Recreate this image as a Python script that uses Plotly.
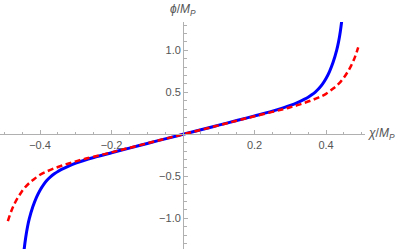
import plotly.graph_objects as go

# Blue (solid) curve
blue_x = [-0.45, -0.445, -0.44, -0.435, -0.43, -0.42, -0.41, -0.40, -0.39, -0.38, -0.37, -0.36,
          -0.35, -0.34, -0.32, -0.30, -0.28, -0.25, -0.20, -0.15, -0.10, -0.05, 0.0,
          0.05, 0.10, 0.15, 0.20, 0.25, 0.28, 0.30, 0.32, 0.34, 0.35, 0.36, 0.37, 0.38,
          0.39, 0.40, 0.41, 0.42, 0.43, 0.435, 0.44, 0.445, 0.45]
blue_y = [-1.62, -1.39, -1.225, -1.10, -1.005, -0.86, -0.75, -0.665, -0.598, -0.545, -0.503, -0.47,
          -0.442, -0.418, -0.378, -0.344, -0.315, -0.276, -0.219, -0.164, -0.109, -0.054, 0.0,
          0.054, 0.109, 0.164, 0.219, 0.276, 0.315, 0.344, 0.378, 0.418, 0.442, 0.47, 0.503, 0.545,
          0.598, 0.665, 0.75, 0.86, 1.005, 1.10, 1.225, 1.39, 1.62]

# Red (dashed) curve
red_x = [-0.49, -0.48, -0.47, -0.46, -0.45, -0.44, -0.43, -0.42, -0.40, -0.38, -0.36, -0.34,
         -0.32, -0.30, -0.28, -0.25, -0.20, -0.15, -0.10, -0.05, 0.0,
         0.05, 0.10, 0.15, 0.20, 0.25, 0.28, 0.30, 0.32, 0.34, 0.36, 0.38, 0.40,
         0.42, 0.43, 0.44, 0.45, 0.46, 0.47, 0.48, 0.49]
red_y = [-1.035, -0.91, -0.815, -0.74, -0.675, -0.622, -0.58, -0.545, -0.482, -0.44, -0.405, -0.375,
         -0.347, -0.322, -0.298, -0.267, -0.215, -0.161, -0.107, -0.053, 0.0,
         0.053, 0.107, 0.161, 0.215, 0.267, 0.298, 0.322, 0.347, 0.375, 0.405, 0.44, 0.482,
         0.545, 0.58, 0.622, 0.675, 0.74, 0.815, 0.91, 1.035]

x_ticks = [-0.4, -0.2, 0.2, 0.4]
x_labels = ["\u22120.4", "\u22120.2", "0.2", "0.4"]
y_ticks = [-1.0, -0.5, 0.5, 1.0]
y_labels = ["\u22121.0", "\u22120.5", "0.5", "1.0"]
x_minor = [-0.5, -0.45, -0.35, -0.3, -0.25, -0.15, -0.1, -0.05, 0.05, 0.1, 0.15, 0.25, 0.3, 0.35, 0.45, 0.5]
y_minor = [-1.3, -1.2, -1.1, -0.9, -0.8, -0.7, -0.6, -0.4, -0.3, -0.2, -0.1,
           0.1, 0.2, 0.3, 0.4, 0.6, 0.7, 0.8, 0.9, 1.1, 1.2, 1.3]

xr = [-0.512, 0.509]
yr = [-1.3655, 1.337]

axis_col = "#b0b0b0"
text_col = "#555555"
font_fam = "Liberation Sans, Arial, sans-serif"

fig = go.Figure()
fig.add_trace(go.Scatter(x=blue_x, y=blue_y, mode="lines",
                         line=dict(color="rgb(0,0,255)", width=3, shape="spline", smoothing=1),
                         showlegend=False, hoverinfo="skip"))
fig.add_trace(go.Scatter(x=red_x, y=red_y, mode="lines",
                         line=dict(color="rgb(255,0,0)", width=2.5, dash="6px,3.5px",
                                   shape="spline", smoothing=1),
                         showlegend=False, hoverinfo="skip"))

fig.update_layout(
    width=403, height=249,
    margin=dict(l=0, r=38, t=22, b=0, autoexpand=False),
    paper_bgcolor="white", plot_bgcolor="white",
    font=dict(family=font_fam, size=11, color=text_col),
    xaxis=dict(range=xr, anchor="free", position=(0 - yr[0]) / (yr[1] - yr[0]), automargin=False,
               showgrid=False, zeroline=False, showline=True, linecolor=axis_col, linewidth=1,
               tickmode="array", tickvals=x_ticks, ticktext=x_labels,
               ticks="inside", ticklen=4, tickcolor=axis_col, tickwidth=1,
               tickfont=dict(family=font_fam, size=11, color=text_col),
               minor=dict(tickmode="array", tickvals=x_minor, ticks="inside", ticklen=2.5,
                          tickcolor=axis_col, tickwidth=1, showgrid=False)),
    yaxis=dict(range=yr, anchor="free", position=(0 - xr[0]) / (xr[1] - xr[0]), automargin=False,
               showgrid=False, zeroline=False, showline=True, linecolor=axis_col, linewidth=1,
               tickmode="array", tickvals=y_ticks, ticktext=y_labels,
               ticks="inside", ticklen=4, tickcolor=axis_col, tickwidth=1,
               tickfont=dict(family=font_fam, size=11, color=text_col),
               minor=dict(tickmode="array", tickvals=y_minor, ticks="inside", ticklen=2.5,
                          tickcolor=axis_col, tickwidth=1, showgrid=False)),
    annotations=[
        dict(text="<i>\u03d5</i>/<i>M</i><sub><i>P</i></sub>", xref="x", x=0, yref="paper", y=1,
             yanchor="bottom", xanchor="center", yshift=2, showarrow=False,
             font=dict(family=font_fam, size=12, color=text_col)),
        dict(text="<i>\u03c7</i>/<i>M</i><sub><i>P</i></sub>", xref="paper", x=1, yref="y", y=0,
             xanchor="left", yanchor="middle", xshift=1, showarrow=False,
             font=dict(family=font_fam, size=12, color=text_col)),
    ],
)

fig.write_html("out.html", config={"displayModeBar": False},
               post_script="document.body.style.margin='0';document.body.style.overflow='hidden';")
